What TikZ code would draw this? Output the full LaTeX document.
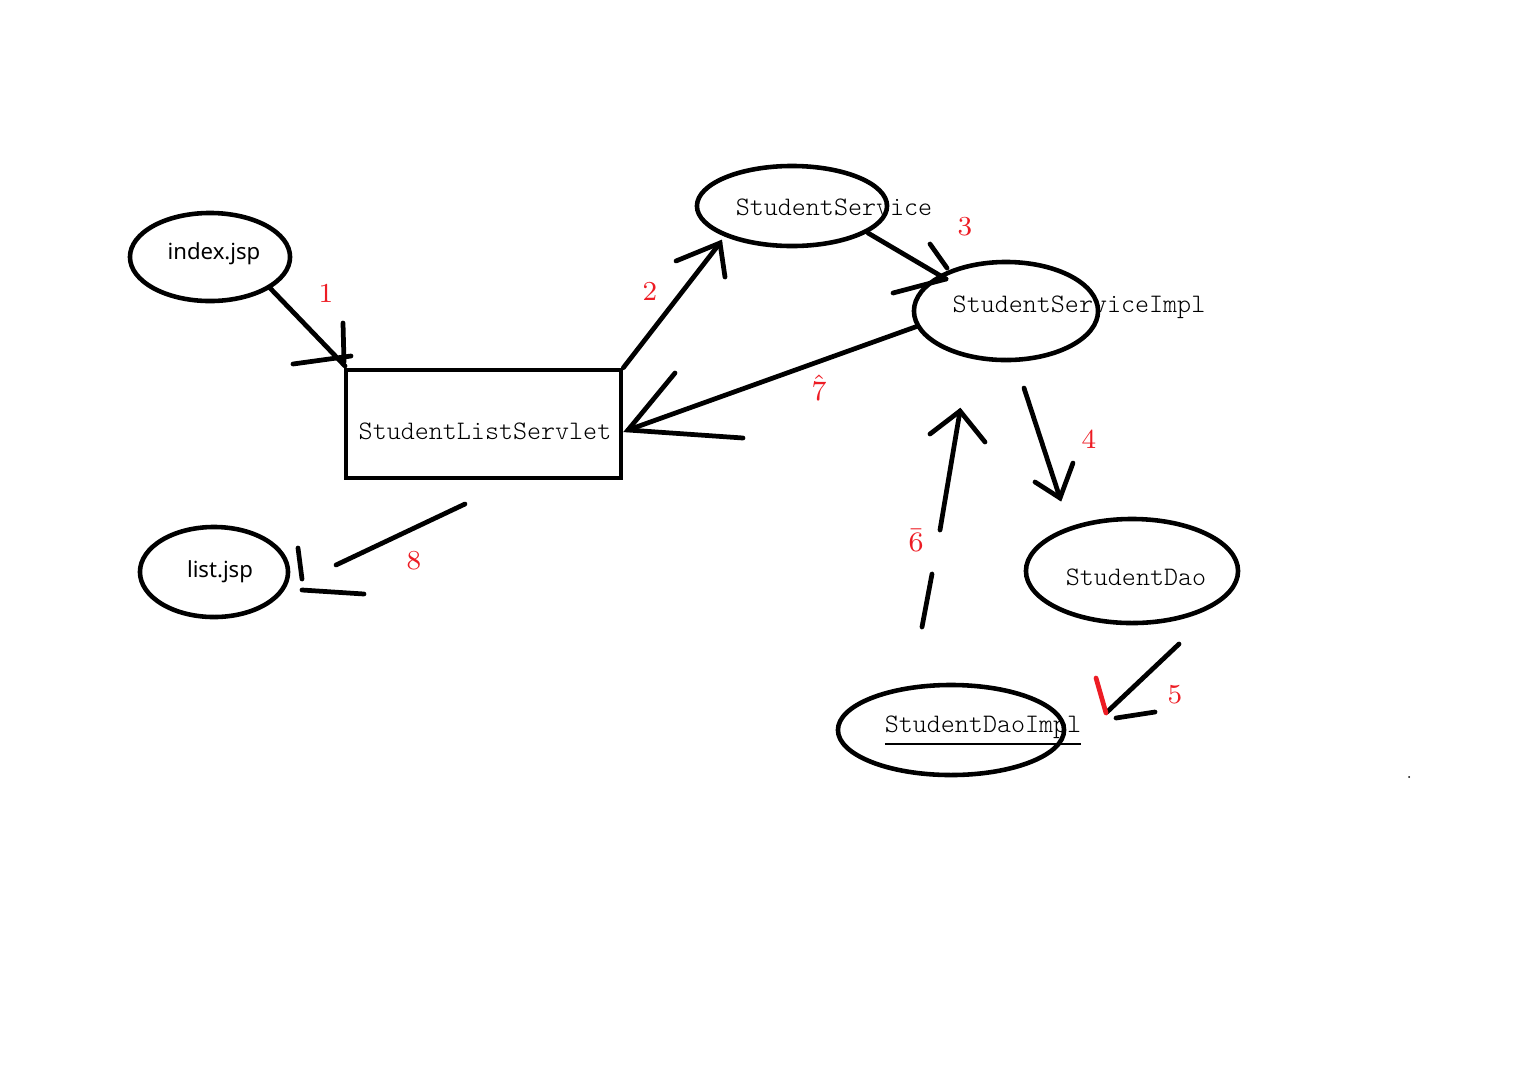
\documentclass[tikz,border=0pt]{standalone}
\usepackage{fontspec}
\usepackage{tikz}
\usetikzlibrary{shapes.geometric}
\newfontfamily\yahei{Noto Sans}
\newfontfamily\monolight{lmmonolt10-regular.otf}
\definecolor{paintred}{RGB}{237,28,36}

\begin{document}
\begin{tikzpicture}
		[x=0.01cm,y=-0.01cm,line cap=round,
		%Styles
		pen/.style={line width=1.35pt},
		class node/.style={ellipse,draw,line width=1.3pt,inner sep=0pt},
		class text/.style={font=\monolight\fontsize{7.6}{9}\selectfont},
		page text/.style={font=\yahei\fontsize{6.3}{8}\selectfont},
		step no/.style={text=paintred,font=\rmfamily\fontsize{7.8}{9}\selectfont}
		]
		
		\useasboundingbox (0,0) rectangle (1536,1066);
		
		%The nodes
		\node[class node,minimum width=1.6cm,minimum height=0.88cm] (index) at (210,257) {};
		\node[page text] (index text) at (214,254) {index.jsp};
		\node[class node,minimum width=1.48cm,minimum height=0.9cm] (list) at (214,572) {};
		\node[page text] (list text) at (220,572) {list.jsp};
		\node[draw,line width=1.3pt,inner sep=0pt,minimum width=2.75cm,minimum height=1.08cm] (servlet) at (483.5,424) {};
		\node[class text] (servlet text) at (485,431) {StudentListServlet};
		\node[class node,minimum width=1.9cm,minimum height=0.8cm] (service) at (792,206) {};
		\node[class text] (service text) at (834,207) {StudentService};
		\node[class node,minimum width=1.84cm,minimum height=0.98cm] (impl) at (1006,311) {};
		\node[class text] (impl text) at (1079,307) {StudentServiceImpl};
		\node[class node,minimum width=2.12cm,minimum height=1.04cm] (dao) at (1132,571) {};
		\node[class text] (dao text) at (1136,577) {StudentDao};
		\node[class node,minimum width=2.26cm,minimum height=0.9cm] (daoimpl) at (951,730) {};
		\node[class text] (daoimpl text) at (983,731) {\underline{StudentDaoImpl}};
		
		%Free ends of the strokes
		\coordinate (h1) at (345,366);
		\coordinate (h2) at (720,243);
		\coordinate (h3) at (946,279);
		\coordinate (h4) at (1060,498);
		\coordinate (h5) at (1107,712);
		\coordinate (h6) at (960,411);
		\coordinate (h7) at (628,430);
		\coordinate (h8) at (336,565);
		
		%1
		\draw[pen] (270,288) -- (h1);
		\draw[pen] (343,323) -- (344,362);
		\draw[pen] (293,364) -- (351,356);
		\node[step no] (n1) at (326,293) {1};
		%2
		\draw[pen] (servlet.north east) -- (h2);
		\draw[pen] (676,261) -- (h2) -- (725,277);
		\node[step no] (n2) at (650,291) {2};
		%3
		\draw[pen] (868,233) -- (h3);
		\draw[pen] (930,244) -- (947,268);
		\draw[pen] (893,293) -- (h3);
		\node[step no] (n3) at (965,227) {3};
		%4
		\draw[pen] (1024,388) -- (h4);
		\draw[pen] (1035,482) -- (h4) -- (1073,463);
		\node[step no] (n4) at (1089,439) {4};
		%5
		\draw[pen] (1179,644) -- (h5);
		\draw[pen,paintred] (1096,678) -- (1106,713);
		\draw[pen] (1116,718) -- (1155,712);
		\node[step no] (n5) at (1175,695) {5};
		%6
		\draw[pen] (922,627) -- (932,574);
		\draw[pen] (940,530) -- (h6);
		\draw[pen] (930,434) -- (h6) -- (985,442);
		\node[step no] (n6) at (916,540) {$\bar{6}$};
		%7
		\draw[pen] (918,326) -- (h7);
		\draw[pen] (675,373) -- (h7) -- (743,438);
		\node[step no] (n7) at (819,388) {$\hat{7}$};
		%8
		\draw[pen] (465,504) -- (h8);
		\draw[pen] (298,548) -- (302,579);
		\draw[pen] (302,590) -- (364,594);
		\node[step no] (n8) at (414,561) {8};
		
		\fill (1409,777) circle (1);
	\end{tikzpicture}
\end{document}
